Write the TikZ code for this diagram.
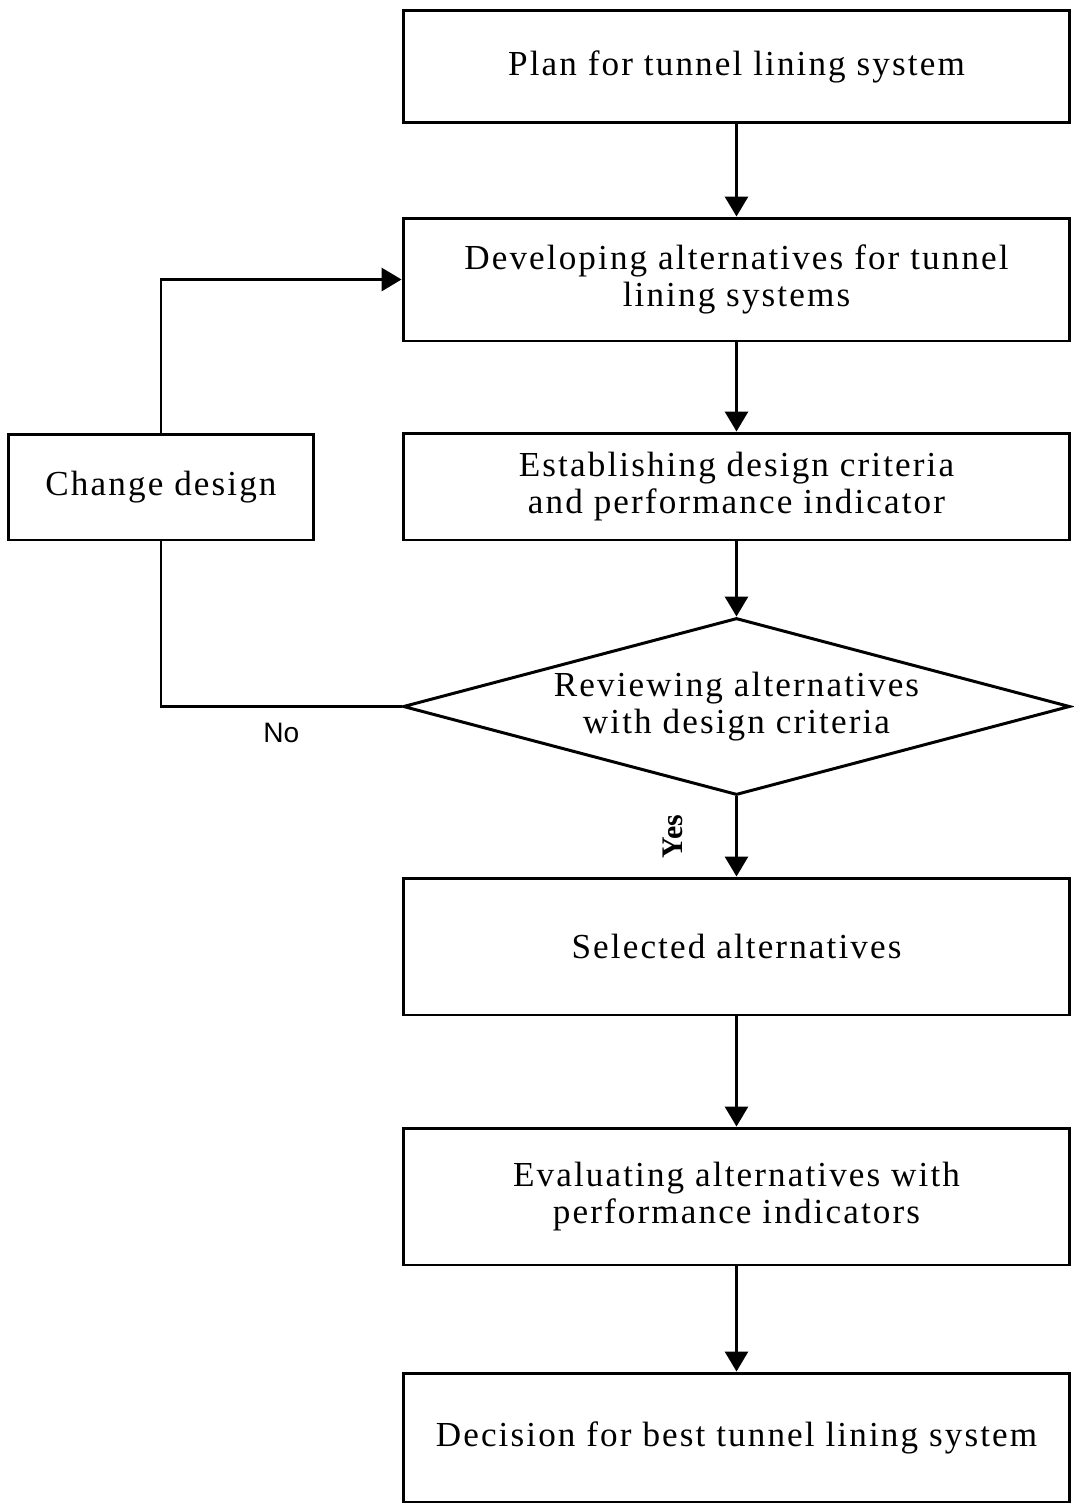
\documentclass[tikz,border=0pt]{standalone}
\usepackage{fontspec}
\setmainfont[LetterSpace=6]{Liberation Serif}
\newfontfamily\labelsans{Liberation Sans}
\newfontfamily\labelserif{Liberation Serif}
\usetikzlibrary{arrows.meta,positioning,shapes.geometric}
\tikzset{
  every picture/.style={line width=1.7pt},
  box/.style={draw,rectangle,minimum width=13.34cm,minimum height=#1,inner sep=0pt,
    align=center,font=\fontsize{20}{20.6}\selectfont},
  box/.default=2.4cm,
  decide/.style={draw,diamond,minimum width=13.34cm,minimum height=3.54cm,aspect=3.77,
    inner sep=0pt,align=center,font=\fontsize{20}{20.6}\selectfont},
  flow/.style={-{Triangle[length=0.4cm,width=0.46cm]}},
}
\begin{document}
\begin{tikzpicture}[x=0.02cm,y=-0.02cm]
  \useasboundingbox (0,0) rectangle (1074,1505);
  % main column
  \node[box=2.26cm] (plan) at (736.5,66.5) {Plan for tunnel lining system};
  \node[box=2.46cm] (develop) at (736.5,279.5) {Developing alternatives for tunnel\\lining systems};
  \node[box=2.14cm] (criteria) at (736.5,486.5) {Establishing design criteria\\and performance indicator};
  \node[decide] (review) at (736.5,706.5) {Reviewing alternatives\\with design criteria};
  \node[box=2.74cm] (selected) at (736.5,946.5) {Selected alternatives};
  \node[box=2.74cm] (evaluate) at (736.5,1196.5) {Evaluating alternatives with\\performance indicators};
  \node[box=2.58cm] (decision) at (736.5,1437.5) {Decision for best tunnel lining system};
  % side box
  \node[box=2.12cm,minimum width=6.12cm] (change) at (161,487) {Change design};
  % arrows
  \draw[flow] (plan) -- (develop);
  \draw[flow] (develop) -- (criteria);
  \draw[flow] (criteria) -- (review);
  \draw[flow] (review) -- node[left=1.28cm,rotate=90,font=\labelserif\bfseries\fontsize{17}{17}\selectfont,anchor=center] (yes) {Yes} (selected);
  \draw[flow] (selected) -- (evaluate);
  \draw[flow] (evaluate) -- (decision);
  % loop back
  \draw (review.west) -| node[pos=0.25,below=0.18cm,font=\labelsans\fontsize{16}{16}\selectfont] (no) {No} (change.south);
  \draw[flow] (change.north) |- (develop.west);
\end{tikzpicture}
\end{document}
